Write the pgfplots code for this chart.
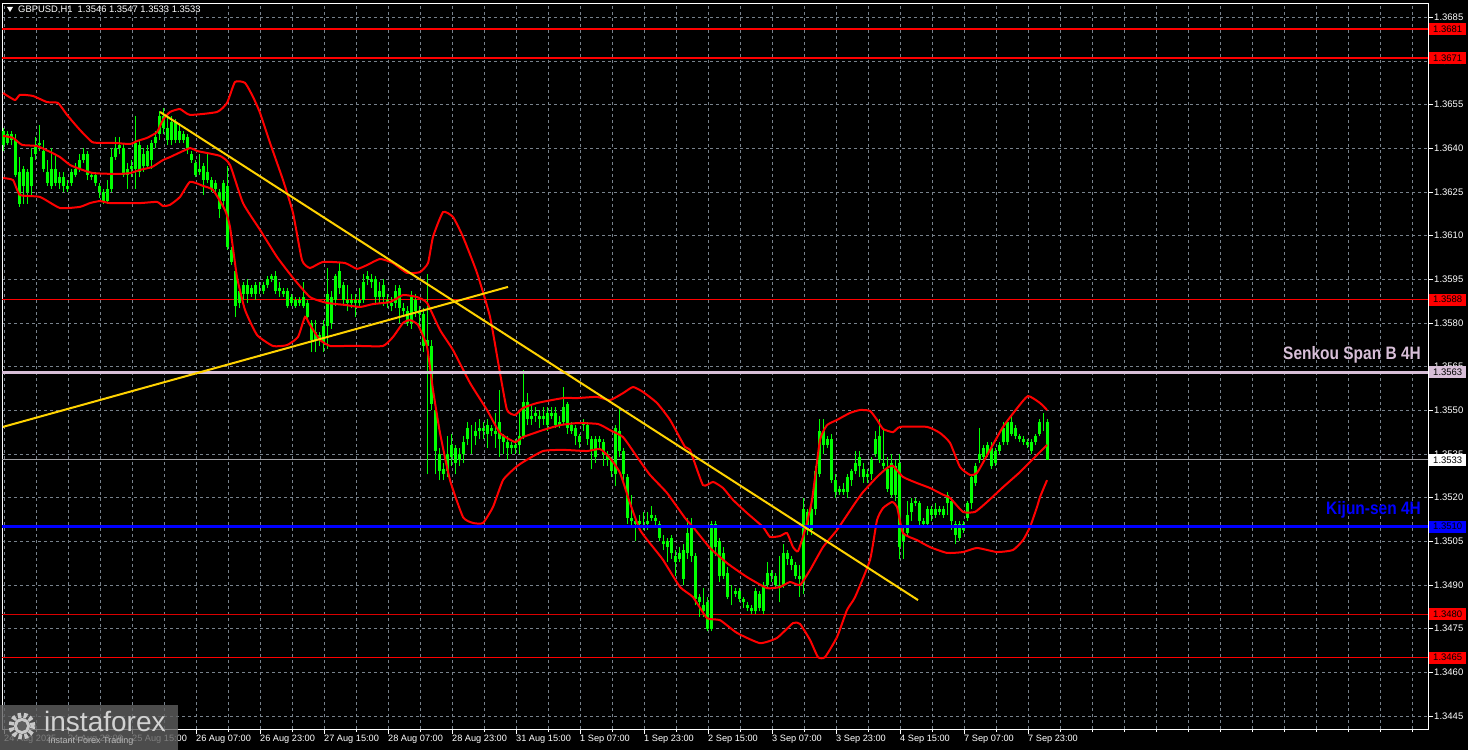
\documentclass[border=0pt]{standalone}
\usepackage{pgfplots}
\pgfplotsset{compat=1.18}
\usepackage{pgfplotstable}
\usepackage{graphicx}
\usepackage{fontspec}
\setmainfont{Liberation Sans}
\definecolor{mtgrid}{RGB}{120,130,140}
\definecolor{mtgreen}{RGB}{0,255,0}
\definecolor{mtred}{RGB}{255,0,0}
\definecolor{mtgold}{RGB}{255,210,0}
\definecolor{mtthistle}{RGB}{216,191,216}
\definecolor{mtblue}{RGB}{0,0,255}
\definecolor{mtgray}{RGB}{160,160,164}
\definecolor{wmbox}{RGB}{95,95,95}
\definecolor{wmlogo}{RGB}{200,200,200}
\definecolor{wmtext}{RGB}{210,210,210}
\definecolor{wmsub}{RGB}{185,185,185}

\pgfplotstableread{
t o h l c
1 1.3646 1.3647 1.3639 1.3641
2 1.3642 1.3646 1.3641 1.3645
3 1.3645 1.3646 1.3641 1.3643
4 1.3643 1.3645 1.3630 1.3631
5 1.3632 1.3637 1.3620 1.3621
6 1.3627 1.3634 1.3621 1.3633
7 1.3632 1.3633 1.3621 1.3625
8 1.3627 1.3640 1.3624 1.3637
9 1.3638 1.3644 1.3636 1.3641
10 1.3641 1.3648 1.3639 1.3642
11 1.3639 1.3643 1.3632 1.3633
12 1.3632 1.3636 1.3627 1.3628
13 1.3627 1.3640 1.3626 1.3633
14 1.3633 1.3638 1.3627 1.3628
15 1.3628 1.3632 1.3626 1.3630
16 1.3630 1.3632 1.3625 1.3627
17 1.3627 1.3629 1.3625 1.3626
18 1.3628 1.3633 1.3627 1.3632
19 1.3631 1.3635 1.3630 1.3633
20 1.3633 1.3638 1.3632 1.3636
21 1.3636 1.3640 1.3635 1.3638
22 1.3638 1.3639 1.3629 1.3631
23 1.3631 1.3632 1.3629 1.3630
24 1.3631 1.3632 1.3627 1.3628
25 1.3627 1.3628 1.3623 1.3625
26 1.3625 1.3626 1.3621 1.3622
27 1.3622 1.3629 1.3621 1.3626
28 1.3626 1.3640 1.3625 1.3637
29 1.3637 1.3644 1.3636 1.3640
30 1.3640 1.3644 1.3638 1.3641
31 1.3640 1.3642 1.3630 1.3631
32 1.3631 1.3635 1.3626 1.3633
33 1.3633 1.3636 1.3630 1.3634
34 1.3633 1.3651 1.3626 1.3642
35 1.3641 1.3643 1.3630 1.3632
36 1.3634 1.3640 1.3632 1.3638
37 1.3634 1.3641 1.3633 1.3639
38 1.3636 1.3643 1.3633 1.3642
39 1.3642 1.3646 1.3640 1.3644
40 1.3645 1.3653 1.3643 1.3651
41 1.3651 1.3654 1.3645 1.3647
42 1.3647 1.3652 1.3641 1.3643
43 1.3643 1.3651 1.3641 1.3649
44 1.3649 1.3650 1.3642 1.3643
45 1.3643 1.3648 1.3642 1.3646
46 1.3645 1.3646 1.3642 1.3643
47 1.3644 1.3645 1.3638 1.3640
48 1.3638 1.3639 1.3635 1.3636
49 1.3635 1.3636 1.3630 1.3631
50 1.3632 1.3638 1.3631 1.3633
51 1.3634 1.3635 1.3624 1.3629
52 1.3629 1.3638 1.3628 1.3632
53 1.3629 1.3630 1.3625 1.3626
54 1.3626 1.3629 1.3625 1.3628
55 1.3625 1.3626 1.3616 1.3619
56 1.3622 1.3629 1.3620 1.3628
57 1.3627 1.3634 1.3605 1.3606
58 1.3605 1.3606 1.3600 1.3601
59 1.3598 1.3601 1.3582 1.3586
60 1.3587 1.3592 1.3585 1.3591
61 1.3590 1.3594 1.3588 1.3593
62 1.3590 1.3595 1.3587 1.3593
63 1.3592 1.3593 1.3589 1.3590
64 1.3590 1.3594 1.3588 1.3593
65 1.3592 1.3594 1.3590 1.3592
66 1.3591 1.3594 1.3590 1.3593
67 1.3593 1.3596 1.3592 1.3595
68 1.3595 1.3597 1.3594 1.3596
69 1.3596 1.3598 1.3590 1.3591
70 1.3591 1.3594 1.3589 1.3592
71 1.3591 1.3592 1.3589 1.3590
72 1.3591 1.3592 1.3585 1.3586
73 1.3587 1.3590 1.3586 1.3589
74 1.3588 1.3589 1.3585 1.3586
75 1.3587 1.3589 1.3586 1.3588
76 1.3586 1.3594 1.3585 1.3589
77 1.3587 1.3588 1.3581 1.3582
78 1.3580 1.3581 1.3570 1.3574
79 1.3574 1.3581 1.3570 1.3577
80 1.3576 1.3577 1.3572 1.3574
81 1.3573 1.3581 1.3570 1.3579
82 1.3579 1.3599 1.3571 1.3590
83 1.3589 1.3591 1.3578 1.3580
84 1.3588 1.3597 1.3586 1.3596
85 1.3592 1.3601 1.3590 1.3598
86 1.3593 1.3594 1.3586 1.3588
87 1.3588 1.3593 1.3584 1.3587
88 1.3587 1.3590 1.3585 1.3588
89 1.3588 1.3590 1.3582 1.3587
90 1.3587 1.3592 1.3585 1.3588
91 1.3588 1.3597 1.3587 1.3594
92 1.3595 1.3598 1.3593 1.3596
93 1.3595 1.3597 1.3592 1.3594
94 1.3595 1.3596 1.3587 1.3589
95 1.3589 1.3594 1.3587 1.3591
96 1.3589 1.3595 1.3586 1.3593
97 1.3588 1.3590 1.3585 1.3587
98 1.3587 1.3589 1.3584 1.3586
99 1.3587 1.3593 1.3585 1.3591
100 1.3592 1.3593 1.3580 1.3585
101 1.3585 1.3587 1.3582 1.3584
102 1.3584 1.3586 1.3579 1.3580
103 1.3580 1.3591 1.3578 1.3589
104 1.3588 1.3590 1.3582 1.3584
105 1.3584 1.3586 1.3578 1.3583
106 1.3583 1.3585 1.3570 1.3572
107 1.3574 1.3597 1.3528 1.3572
108 1.3572 1.3574 1.3550 1.3552
109 1.3550 1.3552 1.3528 1.3536
110 1.3535 1.3537 1.3526 1.3529
111 1.3530 1.3532 1.3526 1.3528
112 1.3529 1.3541 1.3527 1.3535
113 1.3534 1.3542 1.3531 1.3538
114 1.3537 1.3538 1.3528 1.3532
115 1.3533 1.3537 1.3531 1.3535
116 1.3535 1.3541 1.3532 1.3539
117 1.3540 1.3546 1.3538 1.3544
118 1.3543 1.3545 1.3535 1.3543
119 1.3543 1.3546 1.3538 1.3541
120 1.3543 1.3547 1.3540 1.3544
121 1.3543 1.3546 1.3540 1.3544
122 1.3542 1.3547 1.3537 1.3545
123 1.3544 1.3545 1.3541 1.3543
124 1.3543 1.3549 1.3537 1.3542
125 1.3540 1.3557 1.3534 1.3546
126 1.3541 1.3542 1.3535 1.3539
127 1.3539 1.3541 1.3533 1.3537
128 1.3538 1.3539 1.3535 1.3537
129 1.3537 1.3540 1.3535 1.3538
130 1.3538 1.3550 1.3535 1.3541
131 1.3541 1.3564 1.3540 1.3553
132 1.3553 1.3556 1.3545 1.3547
133 1.3547 1.3552 1.3545 1.3548
134 1.3548 1.3551 1.3546 1.3549
135 1.3548 1.3550 1.3544 1.3547
136 1.3547 1.3551 1.3545 1.3548
137 1.3549 1.3551 1.3543 1.3545
138 1.3548 1.3551 1.3547 1.3549
139 1.3549 1.3551 1.3544 1.3545
140 1.3546 1.3548 1.3544 1.3545
141 1.3546 1.3558 1.3545 1.3551
142 1.3552 1.3553 1.3542 1.3544
143 1.3545 1.3546 1.3542 1.3543
144 1.3544 1.3545 1.3538 1.3541
145 1.3541 1.3542 1.3537 1.3539
146 1.3545 1.3547 1.3543 1.3546
147 1.3545 1.3546 1.3538 1.3540
148 1.3540 1.3541 1.3530 1.3536
149 1.3534 1.3541 1.3532 1.3540
150 1.3540 1.3541 1.3537 1.3539
151 1.3539 1.3540 1.3531 1.3535
152 1.3535 1.3536 1.3531 1.3533
153 1.3533 1.3534 1.3527 1.3529
154 1.3528 1.3545 1.3524 1.3544
155 1.3543 1.3551 1.3534 1.3536
156 1.3536 1.3537 1.3526 1.3528
157 1.3527 1.3528 1.3511 1.3513
158 1.3513 1.3521 1.3510 1.3512
159 1.3512 1.3513 1.3505 1.3511
160 1.3512 1.3514 1.3509 1.3511
161 1.3511 1.3515 1.3509 1.3511
162 1.3511 1.3515 1.3509 1.3512
163 1.3513 1.3517 1.3512 1.3514
164 1.3513 1.3514 1.3510 1.3512
165 1.3511 1.3512 1.3505 1.3506
166 1.3505 1.3507 1.3502 1.3504
167 1.3505 1.3506 1.3498 1.3503
168 1.3506 1.3507 1.3499 1.3501
169 1.3500 1.3502 1.3493 1.3498
170 1.3499 1.3503 1.3498 1.3501
171 1.3502 1.3504 1.3490 1.3492
172 1.3501 1.3513 1.3499 1.3508
173 1.3500 1.3513 1.3498 1.3510
174 1.3500 1.3501 1.3483 1.3485
175 1.3486 1.3487 1.3479 1.3484
176 1.3483 1.3489 1.3479 1.3481
177 1.3484 1.3486 1.3474 1.3475
178 1.3475 1.3512 1.3474 1.3511
179 1.3511 1.3512 1.3500 1.3503
180 1.3505 1.3506 1.3491 1.3493
181 1.3493 1.3503 1.3492 1.3501
182 1.3494 1.3496 1.3485 1.3486
183 1.3486 1.3490 1.3483 1.3486
184 1.3487 1.3489 1.3486 1.3488
185 1.3488 1.3489 1.3484 1.3485
186 1.3485 1.3486 1.3482 1.3484
187 1.3483 1.3484 1.3481 1.3482
188 1.3482 1.3483 1.3480 1.3481
189 1.3481 1.3489 1.3480 1.3488
190 1.3487 1.3488 1.3481 1.3482
191 1.3481 1.3491 1.3480 1.3490
192 1.3490 1.3498 1.3489 1.3494
193 1.3494 1.3495 1.3491 1.3493
194 1.3493 1.3494 1.3489 1.3490
195 1.3490 1.3500 1.3484 1.3489
196 1.3490 1.3504 1.3489 1.3501
197 1.3501 1.3502 1.3497 1.3499
198 1.3499 1.3500 1.3495 1.3497
199 1.3497 1.3498 1.3492 1.3493
200 1.3493 1.3497 1.3486 1.3492
201 1.3491 1.3520 1.3487 1.3516
202 1.3515 1.3516 1.3507 1.3509
203 1.3509 1.3520 1.3507 1.3516
204 1.3516 1.3531 1.3514 1.3529
205 1.3528 1.3547 1.3527 1.3543
206 1.3543 1.3547 1.3535 1.3538
207 1.3538 1.3541 1.3537 1.3540
208 1.3540 1.3542 1.3525 1.3526
209 1.3526 1.3528 1.3520 1.3522
210 1.3523 1.3524 1.3521 1.3522
211 1.3522 1.3525 1.3521 1.3523
212 1.3522 1.3528 1.3520 1.3527
213 1.3526 1.3530 1.3524 1.3529
214 1.3529 1.3536 1.3528 1.3532
215 1.3531 1.3536 1.3527 1.3534
216 1.3530 1.3532 1.3525 1.3527
217 1.3527 1.3530 1.3525 1.3528
218 1.3528 1.3534 1.3526 1.3533
219 1.3535 1.3543 1.3534 1.3540
220 1.3541 1.3547 1.3532 1.3533
221 1.3532 1.3544 1.3530 1.3531
222 1.3530 1.3534 1.3522 1.3523
223 1.3532 1.3535 1.3520 1.3521
224 1.3521 1.3533 1.3519 1.3531
225 1.3532 1.3535 1.3499 1.3503
226 1.3505 1.3510 1.3499 1.3508
227 1.3508 1.3519 1.3507 1.3514
228 1.3515 1.3520 1.3512 1.3518
229 1.3518 1.3520 1.3517 1.3519
230 1.3518 1.3519 1.3510 1.3512
231 1.3512 1.3513 1.3510 1.3511
232 1.3511 1.3517 1.3510 1.3516
233 1.3516 1.3517 1.3512 1.3514
234 1.3514 1.3518 1.3513 1.3516
235 1.3515 1.3517 1.3514 1.3516
236 1.3514 1.3517 1.3513 1.3516
237 1.3518 1.3522 1.3514 1.3521
238 1.3519 1.3520 1.3509 1.3512
239 1.3511 1.3512 1.3504 1.3507
240 1.3506 1.3512 1.3505 1.3511
241 1.3509 1.3512 1.3508 1.3511
242 1.3513 1.3519 1.3512 1.3518
243 1.3518 1.3528 1.3516 1.3527
244 1.3525 1.3532 1.3524 1.3531
245 1.3533 1.3544 1.3532 1.3535
246 1.3534 1.3538 1.3533 1.3537
247 1.3535 1.3539 1.3534 1.3538
248 1.3537 1.3539 1.3530 1.3531
249 1.3532 1.3537 1.3531 1.3536
250 1.3536 1.3539 1.3535 1.3538
251 1.3539 1.3546 1.3538 1.3544
252 1.3539 1.3547 1.3538 1.3546
253 1.3546 1.3548 1.3541 1.3542
254 1.3544 1.3545 1.3540 1.3541
255 1.3541 1.3542 1.3539 1.3540
256 1.3540 1.3541 1.3538 1.3539
257 1.3539 1.3540 1.3537 1.3538
258 1.3536 1.3540 1.3535 1.3539
259 1.3539 1.3542 1.3538 1.3541
260 1.3542 1.3547 1.3541 1.3546
261 1.3546 1.3549 1.3543 1.3546
262 1.3546 1.3547 1.3533 1.3533
}\candles

\pgfplotstableread{
t p
1 1.36590
4 1.36566
5.25 1.36584
8.5 1.36580
12 1.36559
14.75 1.36556
17 1.36515
20.25 1.36463
23.25 1.36422
25.25 1.36419
28.5 1.36419
32.75 1.36415
34.5 1.36425
37 1.36436
39.5 1.36456
41 1.36498
42.75 1.36525
45.25 1.36535
47.75 1.36515
54.5 1.36525
57 1.36556
59 1.36628
61.5 1.36625
63.5 1.36577
65.25 1.36522
67.75 1.36419
71 1.36291
73.5 1.36178
75.75 1.36016
77.75 1.35989
81 1.36010
86.5 1.36006
89.5 1.35986
92 1.35999
95.25 1.36020
98.5 1.36006
102 1.35972
105.25 1.35975
107.25 1.36006
108.5 1.36096
111 1.36181
113.5 1.36164
116 1.36096
119.5 1.35972
122.75 1.35821
125.25 1.35628
127 1.35501
129 1.35484
131 1.35508
134.5 1.35525
141 1.35542
144.5 1.35542
149.5 1.35546
152.75 1.35535
156 1.35559
158.5 1.35580
161 1.35563
164.5 1.35525
167.75 1.35467
171.5 1.35374
172.75 1.35364
176 1.35243
178.5 1.35254
181 1.35233
183.5 1.35192
187 1.35147
191 1.35099
192.75 1.35065
195.25 1.35068
197 1.35078
198.5 1.35030
199.75 1.35016
201.5 1.35089
203.25 1.35192
205.25 1.35398
207 1.35449
209.5 1.35467
212.75 1.35491
215.25 1.35501
217.75 1.35498
219.5 1.35467
221 1.35436
223.5 1.35425
225.25 1.35443
232 1.35443
235.25 1.35422
237.75 1.35388
240.25 1.35305
242.75 1.35278
244.5 1.35285
247.75 1.35364
251 1.35443
254.5 1.35507
257.25 1.35549
260.25 1.35525
262 1.35501
}\bbupper

\pgfplotstableread{
t p
1 1.36443
3.5 1.36436
5.75 1.36412
9.5 1.36408
12.75 1.36388
15.25 1.36370
17.75 1.36343
20.25 1.36329
23.5 1.36315
29.5 1.36312
32.75 1.36315
35.25 1.36326
38.25 1.36336
41 1.36360
42.75 1.36370
47.75 1.36401
49.5 1.36391
55.25 1.36374
57.75 1.36343
61 1.36212
65.25 1.36120
69.5 1.36027
73.5 1.35955
77.75 1.35889
82 1.35869
86.5 1.35862
90.25 1.35855
93.5 1.35865
97.75 1.35872
101 1.35896
104.5 1.35889
107 1.35869
110.25 1.35776
113.5 1.35707
117.75 1.35594
122 1.35501
125.25 1.35422
129 1.35391
131 1.35408
136 1.35432
140.25 1.35449
144.5 1.35456
149.75 1.35453
152.75 1.35432
156 1.35408
159.5 1.35340
162.75 1.35278
167 1.35216
171.5 1.35130
173.5 1.35099
177.75 1.35027
182 1.34975
187 1.34927
192 1.34889
195.25 1.34893
197.75 1.34910
200.25 1.34900
202.75 1.34951
206 1.35030
209.5 1.35089
214 1.35181
216 1.35219
219.5 1.35271
222 1.35302
223.5 1.35309
226 1.35271
229.5 1.35250
232.75 1.35233
236 1.35210
237.75 1.35199
241 1.35151
244 1.35151
247 1.35185
251 1.35236
255.25 1.35288
260.25 1.35357
262 1.35381
}\bbmiddle

\pgfplotstableread{
t p
1 1.36298
3.5 1.36291
5.25 1.36240
10.25 1.36233
15.25 1.36195
20.25 1.36199
22.75 1.36212
25.25 1.36219
27.75 1.36212
35.25 1.36212
39.5 1.36216
41 1.36202
42.75 1.36206
45.25 1.36233
47.75 1.36285
51 1.36271
53.5 1.36257
56.5 1.36188
57.75 1.36130
59.5 1.35958
61.5 1.35845
64.5 1.35759
68.5 1.35721
72 1.35724
74.75 1.35752
76.5 1.35821
77.75 1.35793
80.25 1.35742
82.75 1.35721
86.5 1.35721
90.25 1.35721
96 1.35721
98.5 1.35752
101 1.35800
102.75 1.35810
104.75 1.35793
107 1.35718
108.5 1.35570
110.25 1.35422
112.75 1.35260
116 1.35133
118.5 1.35113
121 1.35113
123.5 1.35168
126 1.35260
129 1.35302
131 1.35322
136 1.35360
141 1.35364
147 1.35360
150.25 1.35367
152.75 1.35336
155.25 1.35285
157.75 1.35181
160.25 1.35089
163.5 1.35030
166 1.34986
170.25 1.34893
173.5 1.34858
177 1.34786
180.25 1.34779
184.5 1.34735
190.25 1.34700
194.5 1.34718
198.5 1.34769
200.25 1.34766
202.75 1.34711
204.75 1.34652
206.5 1.34652
209.5 1.34721
212 1.34814
214 1.34858
217.75 1.34986
219.5 1.35123
221 1.35164
223.25 1.35185
224.5 1.35168
226 1.35078
229.5 1.35054
232.75 1.35030
237 1.35010
241 1.35013
244.5 1.35027
249.5 1.35013
253.5 1.35020
256 1.35054
257.75 1.35099
259.5 1.35168
260.25 1.35202
262 1.35260
}\bblower

\begin{document}
\begin{tikzpicture}
\useasboundingbox (-2pt,-21pt) rectangle (1466pt,729pt);
\fill[black] (-2pt,-21pt) rectangle (1466pt,729pt);
\begin{axis}[
  at={(0pt,0pt)}, anchor=south west,
  scale only axis, width=1426pt, height=725pt,
  xmin=0.75, xmax=357.25, ymin=1.34405, ymax=1.36896,
  axis background/.style={fill=black},
  axis line style={white, line width=1pt},
  xtick={1.25,17.25,33.25,49.25,65.25,81.25,97.25,113.25,129.25,145.25,161.25,177.25,193.25,209.25,225.25,241.25,257.25},
  xticklabels={24 Aug 2025,24 Aug 23:00,25 Aug 15:00,26 Aug 07:00,26 Aug 23:00,27 Aug 15:00,28 Aug 07:00,28 Aug 23:00,31 Aug 15:00,1 Sep 07:00,1 Sep 23:00,2 Sep 15:00,3 Sep 07:00,3 Sep 23:00,4 Sep 15:00,7 Sep 07:00,7 Sep 23:00},
  minor xtick={1.25,9.25,...,353.25},
  ytick={1.3445,1.3460,1.3475,1.3490,1.3505,1.3520,1.3535,1.3550,1.3565,1.3580,1.3595,1.3610,1.3625,1.3640,1.3655,1.3670,1.3685},
  yticklabels={1.3445,1.3460,1.3475,1.3490,1.3505,1.3520,1.3535,1.3550,1.3565,1.3580,1.3595,1.3610,1.3625,1.3640,1.3655,1.3670,1.3685},
  xmajorgrids, xminorgrids, ymajorgrids,
  grid style={mtgrid, line width=0.8pt, dash pattern=on 3pt off 3pt},
  minor grid style={mtgrid, line width=0.8pt, dash pattern=on 3pt off 3pt},
  tick style={white, line width=0.8pt},
  xtick pos=left, ytick pos=right, yticklabel pos=right,
  tick align=outside, major tick length=5pt, minor tick length=3pt,
  xticklabel style={anchor=north west, text=white, font=\fontsize{9.2}{10}\selectfont, inner sep=1pt, xshift=-1pt},
  yticklabel style={anchor=west, text=white, font=\fontsize{9.5}{10}\selectfont, inner sep=1pt},
  clip mode=individual,
]
% horizontal levels
\addplot[mtgray, line width=0.8pt] coordinates {(0.75,1.3533) (357.25,1.3533)};
\addplot[mtred, line width=1.4pt] coordinates {(0.75,1.3681) (357.25,1.3681)};
\addplot[mtred, line width=1.4pt] coordinates {(0.75,1.3671) (357.25,1.3671)};
\addplot[mtred, line width=1.4pt] coordinates {(0.75,1.3588) (357.25,1.3588)};
\addplot[mtred!85!black, line width=1pt] coordinates {(0.75,1.3480) (357.25,1.3480)};
\addplot[mtred, line width=1.4pt] coordinates {(0.75,1.3465) (357.25,1.3465)};
% candles
\addplot[quiver={u=0, v=\thisrow{h}-\thisrow{l}}, -, mtgreen, line width=1pt] table[x=t, y=l] {\candles};
\addplot[quiver={u=0, v=\thisrow{c}-\thisrow{o}}, -, mtgreen, line width=3pt] table[x=t, y=o] {\candles};
% bollinger bands
\addplot[mtred, line width=2pt, smooth, tension=0.3] table[x=t, y=p] {\bbupper};
\addplot[mtred, line width=2pt, smooth, tension=0.3] table[x=t, y=p] {\bbmiddle};
\addplot[mtred, line width=2pt, smooth, tension=0.3] table[x=t, y=p] {\bblower};
% Ichimoku levels
\addplot[mtthistle, line width=3pt] coordinates {(0.75,1.3563) (357.25,1.3563)};
\addplot[mtblue, line width=3.5pt] coordinates {(0.75,1.3510) (357.25,1.3510)};
% trend lines
\addplot[mtgold, line width=2pt] coordinates {(40.25,1.36525) (229.75,1.34848)};
\addplot[mtgold, line width=2pt] coordinates {(1,1.35443) (127.25,1.35924)};
\node[anchor=east, inner sep=0pt, text=mtthistle, font=\bfseries\fontsize{18}{18}\selectfont] at (axis cs:355.5,1.35690) {\scalebox{0.86}[1]{Senkou Span B 4H}};
\node[anchor=east, inner sep=0pt, text=mtblue, font=\bfseries\fontsize{18}{18}\selectfont] at (axis cs:355.5,1.35157) {\scalebox{0.86}[1]{Kijun-sen 4H}};
\coordinate (q3681) at (axis cs:357.25,1.3681);
\coordinate (q3671) at (axis cs:357.25,1.3671);
\coordinate (q3588) at (axis cs:357.25,1.3588);
\coordinate (q3563) at (axis cs:357.25,1.3563);
\coordinate (q3533) at (axis cs:357.25,1.3533);
\coordinate (q3510) at (axis cs:357.25,1.3510);
\coordinate (q3480) at (axis cs:357.25,1.3480);
\coordinate (q3465) at (axis cs:357.25,1.3465);
\end{axis}
\tikzset{pl/.style={anchor=west, inner sep=0pt, minimum width=37pt, minimum height=12pt, font=\fontsize{9.5}{9.5}\selectfont, text=black, xshift=1pt}}
\node[pl, fill=mtred] at (q3681) {1.3681};
\node[pl, fill=mtred] at (q3671) {1.3671};
\node[pl, fill=mtred] at (q3588) {1.3588};
\node[pl, fill=mtthistle] at (q3563) {1.3563};
\node[pl, fill=white] at (q3533) {1.3533};
\node[pl, fill=mtblue] at (q3510) {1.3510};
\node[pl, fill=mtred] at (q3480) {1.3480};
\node[pl, fill=mtred] at (q3465) {1.3465};
% title
\fill[white] (5pt,722pt) -- (11pt,722pt) -- (8pt,717pt) -- cycle;
\node[anchor=west, inner sep=0pt, text=white, font=\fontsize{9.4}{10}\selectfont] at (16pt,719pt) {GBPUSD,H1\ \ 1.3546 1.3547 1.3533 1.3533};
% watermark
\fill[wmbox, opacity=0.8] (-2pt,-21pt) rectangle (176pt,24pt);
\draw[wmlogo, line width=5pt, dash pattern=on 3.5pt off 2.5pt] (20pt,3pt) circle (11pt);
\fill[wmlogo] (20pt,3pt) circle (8pt);
\fill[wmbox] (20pt,3pt) circle (5pt);
\node[anchor=west, inner sep=0pt, text=wmtext, font=\fontsize{28}{28}\selectfont] at (42pt,8pt) {instaforex};
\node[anchor=west, inner sep=0pt, text=wmsub, font=\fontsize{9}{9}\selectfont] at (46pt,-12pt) {Instant Forex Trading};
\end{tikzpicture}
\end{document}
